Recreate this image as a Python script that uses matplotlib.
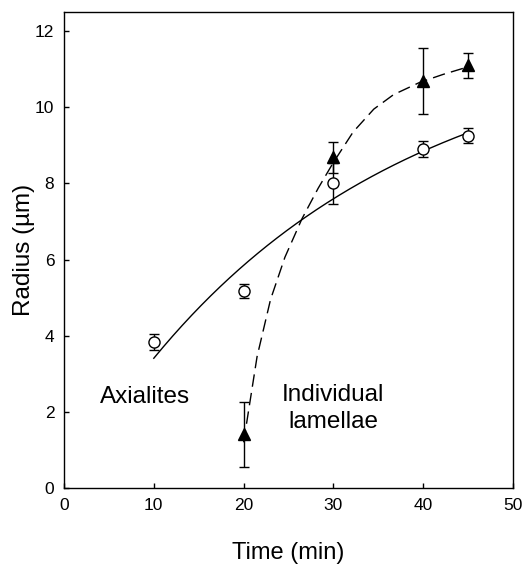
import numpy as np
import matplotlib
matplotlib.use("Agg")
import matplotlib.pyplot as plt

plt.rcParams['font.family'] = ['Liberation Sans', 'DejaVu Sans']

# Axialites (open circles)
ax_time = [10, 20, 30, 40, 45]
ax_radius = [3.83, 5.17, 8.00, 8.90, 9.25]
ax_err = [0.21, 0.18, 0.54, 0.21, 0.20]

# Individual lamellae (filled triangles)
lam_time = [20, 30, 40, 45]
lam_radius = [1.41, 8.68, 10.69, 11.10]
lam_err = [0.86, 0.40, 0.87, 0.33]

# Axialites fit curve: y = a * (1 - exp(-k * t)), parameters
fit_a = 12.0
fit_k = 0.0334
fit_range = [10, 45]

# Lamellae fit curve
lam_fit_t = [20.0, 20.2, 21.5, 23.0, 24.6, 26.5, 28.3, 30.0, 32.2, 34.5, 36.7, 39.6, 42.2, 45.0]
lam_fit_r = [1.20, 1.50, 3.45, 4.95, 6.06, 7.07, 7.87, 8.55, 9.35, 9.95, 10.33, 10.65, 10.86, 11.06]

xticks = [0, 10, 20, 30, 40, 50]
yticks = [0, 2, 4, 6, 8, 10, 12]

fig = plt.figure(figsize=(5.25, 5.65), dpi=100)
ax = fig.add_axes([64/525, 77/565, 449/525, 476/565])

t = np.linspace(fit_range[0], fit_range[1], 200)
ax.plot(t, fit_a * (1 - np.exp(-fit_k * t)), color='black', lw=1.0, zorder=2)
ax.plot(lam_fit_t, lam_fit_r, color='black', lw=1.0, dashes=(9, 4.5), zorder=2)

ax.errorbar(ax_time, ax_radius, yerr=ax_err, fmt='none', ecolor='black',
            elinewidth=1.0, capsize=3.8, capthick=1.0, zorder=3)
ax.errorbar(lam_time, lam_radius, yerr=lam_err, fmt='none', ecolor='black',
            elinewidth=1.0, capsize=3.8, capthick=1.0, zorder=3)
ax.plot(ax_time, ax_radius, 'o', ms=8, mfc='white', mec='black', mew=1.0, zorder=4)
ax.plot(lam_time, lam_radius, '^', ms=8.5, mfc='black', mec='black', mew=1.0, zorder=4)

ax.text(9.05, 2.235, 'Axialites', fontsize=17.5, ha='center', va='baseline')
ax.text(30, 2.29, 'Individual', fontsize=17.5, ha='center', va='baseline')
ax.text(30, 1.58, 'lamellae', fontsize=17.5, ha='center', va='baseline')

ax.set_xlim(0, 50)
ax.set_ylim(0, 12.5)
ax.set_xticks(xticks)
ax.set_yticks(yticks)
ax.tick_params(direction='in', length=3.6, width=1.0, labelsize=12.5, pad=7,
               top=False, right=False)
for s in ax.spines.values():
    s.set_linewidth(1.0)

ax.set_xlabel('Time (min)', fontsize=17, labelpad=21)
ax.set_ylabel('Radius (µm)', fontsize=17.5, labelpad=0)

fig.savefig('out.png', dpi=100)
